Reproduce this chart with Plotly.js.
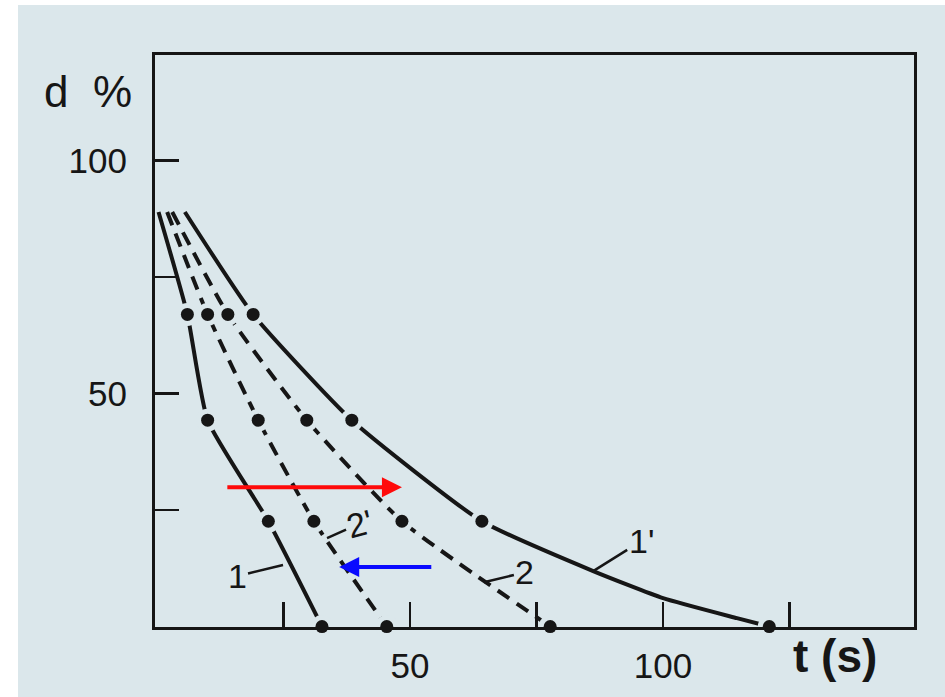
<!DOCTYPE html>
<html>
<head>
<meta charset="utf-8">
<script src="https://cdn.plot.ly/plotly-3.0.1.min.js"></script>
<style>html,body{margin:0;padding:0;background:#dbe7eb;}</style>
</head>
<body>
<div id="chart" style="width:945px;height:697px;"></div>
<script>
// d levels (%) of the measured points (rows of dots)
const dLevels = [67, 44.3, 22.6, 0];
// t (s) of the measured points on each curve
const t_1  = [6, 10, 22, 32.6];
const t_2p = [10, 20, 31, 45.4];
const t_2  = [14, 29.6, 48.4, 77.7];
const t_1p = [19, 38.5, 64.2, 121];
// start of each curve (t at d = startD)
const startD = 89;
const start_1 = 0.3, start_2p = 2, start_2 = 3, start_1p = 5.5;
// extra points read along the tail of curve 1'
const tail_1p_t = [86.2, 100, 114.6];
const tail_1p_d = [11.9, 6.1, 1.8];
// tick labels
const xTickVals = [25, 50, 75, 100, 125];
const xTickText = ['', '50', '', '100', ''];
const yTickVals = [25, 50, 75, 100];
const yTickText = ['', '50', '', '100'];

const INK = '#161616';
const BG = '#dbe7eb';
const FONT = 'Liberation Sans, Arial, sans-serif';

function curve(start, ts, extraT, extraD) {
  let x = [start].concat(ts);
  let y = [startD].concat(dLevels);
  if (extraT) {
    x = x.slice(0, -1).concat(extraT, [ts[ts.length - 1]]);
    y = y.slice(0, -1).concat(extraD, [dLevels[dLevels.length - 1]]);
  }
  return {x, y};
}

function lineTrace(c, dash) {
  return {x: c.x, y: c.y, mode: 'lines', type: 'scatter',
    line: {color: INK, width: 4, dash: dash, shape: 'spline', smoothing: 0.5},
    hoverinfo: 'skip', showlegend: false, cliponaxis: false};
}

const c1 = curve(start_1, t_1);
const c2p = curve(start_2p, t_2p);
const c2 = curve(start_2, t_2);
const c1p = curve(start_1p, t_1p, tail_1p_t, tail_1p_d);

const dotsX = [].concat(t_1, t_2p, t_2, t_1p);
const dotsY = [].concat(dLevels, dLevels, dLevels, dLevels);

const data = [
  lineTrace(c1, 'solid'),
  lineTrace(c2p, '14px,9px'),
  lineTrace(c2, '14px,9px'),
  lineTrace(c1p, 'solid'),
  {x: dotsX, y: dotsY, mode: 'markers', type: 'scatter', cliponaxis: false,
   marker: {size: 23, color: BG}, hoverinfo: 'skip', showlegend: false},
  {x: dotsX, y: dotsY, mode: 'markers', type: 'scatter', cliponaxis: false,
   marker: {size: 13, color: INK}, hoverinfo: 'skip', showlegend: false}
];

const labelFont = {family: FONT, size: 34, color: INK};
const annotations = [
  {text: 'd\u00a0\u00a0%', xref: 'paper', yref: 'paper', x: -0.088, y: 0.937,
   xanchor: 'center', yanchor: 'middle', showarrow: false,
   font: {family: FONT, size: 44, color: INK}},
  {text: '<b>t (s)</b>', xref: 'paper', yref: 'paper', x: 0.896, y: -0.05,
   xanchor: 'center', yanchor: 'middle', showarrow: false,
   font: {family: FONT, size: 46, color: INK}},
  {text: '1', x: 24.9, y: 13.2, xref: 'x', yref: 'y', ax: -46, ay: 11, showarrow: true,
   arrowhead: 0, arrowwidth: 2.5, arrowcolor: INK, font: labelFont},
  {text: "2'", x: 33.6, y: 19, xref: 'x', yref: 'y', ax: 32, ay: -14, showarrow: true,
   arrowhead: 0, arrowwidth: 2.5, arrowcolor: INK, font: labelFont, textangle: -15},
  {text: '2', x: 64.6, y: 9.5, xref: 'x', yref: 'y', ax: 41, ay: -10, showarrow: true,
   arrowhead: 0, arrowwidth: 2.5, arrowcolor: INK, font: labelFont},
  {text: "1'", x: 86.2, y: 11.9, xref: 'x', yref: 'y', ax: 48, ay: -30, showarrow: true,
   arrowhead: 0, arrowwidth: 2.5, arrowcolor: INK, font: labelFont},
  // coloured arrows
  {text: '', x: 48.4, y: 29.9, ax: 13.6, ay: 29.9, xref: 'x', yref: 'y', axref: 'x', ayref: 'y',
   showarrow: true, arrowhead: 2, arrowsize: 1, arrowwidth: 4, arrowcolor: '#ff0a0a'},
  {text: '', x: 36, y: 12.8, ax: 54.5, ay: 12.8, xref: 'x', yref: 'y', axref: 'x', ayref: 'y',
   showarrow: true, arrowhead: 2, arrowsize: 1, arrowwidth: 4, arrowcolor: '#0a0aff'}
];

const shapes = [
  {type: 'rect', xref: 'paper', yref: 'paper', x0: -155/759, x1: -137/759, y0: -0.2, y1: 1.2,
   fillcolor: '#ffffff', line: {width: 0}, layer: 'below'},
  {type: 'rect', xref: 'paper', yref: 'paper', x0: -0.25, x1: 1.1, y0: 1 + 50/572, y1: 1.2,
   fillcolor: '#ffffff', line: {width: 0}, layer: 'below'}
];

const axisCommon = {
  showline: true, mirror: true, linecolor: INK, linewidth: 3,
  ticks: 'inside', tickcolor: INK, tickwidth: 2.5,
  showgrid: false, zeroline: false, fixedrange: true,
  tickfont: {family: FONT, size: 35, color: INK}
};

const layout = {
  width: 945, height: 697,
  margin: {l: 155, r: 31, t: 55, b: 70},
  paper_bgcolor: BG, plot_bgcolor: BG,
  showlegend: false,
  xaxis: Object.assign({}, axisCommon, {range: [-0.4, 149.6], tickmode: 'array',
    tickvals: xTickVals, ticktext: xTickText, ticklen: 25, ticklabelstandoff: 6}),
  yaxis: Object.assign({}, axisCommon, {range: [-0.1, 122.7], tickmode: 'array',
    tickvals: yTickVals, ticktext: yTickText, ticklen: 24, ticklabelstandoff: 18}),
  annotations: annotations,
  shapes: shapes
};

Plotly.newPlot('chart', data, layout, {displayModeBar: false, staticPlot: true});
</script>
</body>
</html>
